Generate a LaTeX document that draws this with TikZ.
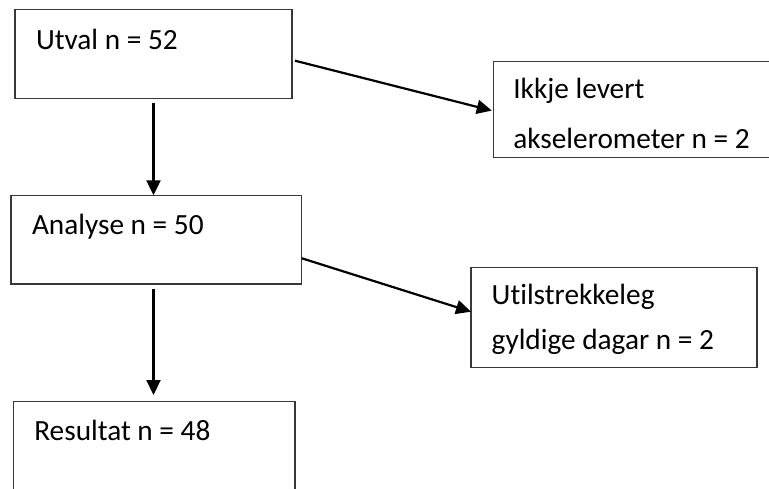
\documentclass[tikz,border=0pt]{standalone}
\usepackage{fontspec}
\setmainfont{Carlito}[Ligatures=NoCommon]
\usetikzlibrary{arrows.meta,calc}
\begin{document}
\begin{tikzpicture}[x=1pt,y=-1pt,
  box/.style={draw=black!78,line width=1.3pt,rectangle,inner sep=0pt,outer sep=0pt,anchor=north west},
  txt/.style={anchor=base west,inner sep=0pt,outer sep=0pt,font=\fontsize{29.3}{35}\selectfont},
  arr/.style={line width=2.2pt,-{Triangle[length=15pt,width=14pt]}}]
\useasboundingbox (0,0) rectangle (769,488);
\fill[white] (0,0) rectangle (769,488);
% boxes
\node[box,minimum width=277pt,minimum height=89.4pt] (utval) at (15,9.3) {};
\node[box,minimum width=290pt,minimum height=96.2pt] (ikkje) at (493.3,61.5) {};
\node[box,minimum width=290.7pt,minimum height=88.7pt] (analyse) at (11,195.3) {};
\node[box,minimum width=286pt,minimum height=100pt] (util) at (471,267.7) {};
\node[box,minimum width=281.7pt,minimum height=120pt] (result) at (13.3,401.7) {};
% texts
\node[txt] (t1) at (36,49) {Utval n = 52};
\node[txt] (t2a) at (513.3,98.3) {Ikkje levert};
\node[txt] (t2b) at (513.3,148.3) {akselerometer n = 2};
\node[txt] (t3) at (32,234) {Analyse n = 50};
\node[txt] (t4a) at (491.7,304.3) {Utilstrekkeleg};
\node[txt] (t4b) at (491.7,349) {gyldige dagar n = 2};
\node[txt] (t5) at (34.3,440) {Resultat n = 48};
% connectors
\draw[arr] ($(utval.south)+(0,4.5)$) -- (utval.south |- analyse.north);
\draw[arr] ($(utval.east)+(3,6.7)$) -- ($(ikkje.west)+(-1.5,1)$);
\draw[arr] ($(analyse.east)+(0,18.6)$) -- ($(util.west)+(0,-6)$);
\draw[arr] ($(utval.south |- analyse.south)+(0,5)$) -- ($(utval.south |- result.north)+(0,-6.7)$);
\end{tikzpicture}
\end{document}
